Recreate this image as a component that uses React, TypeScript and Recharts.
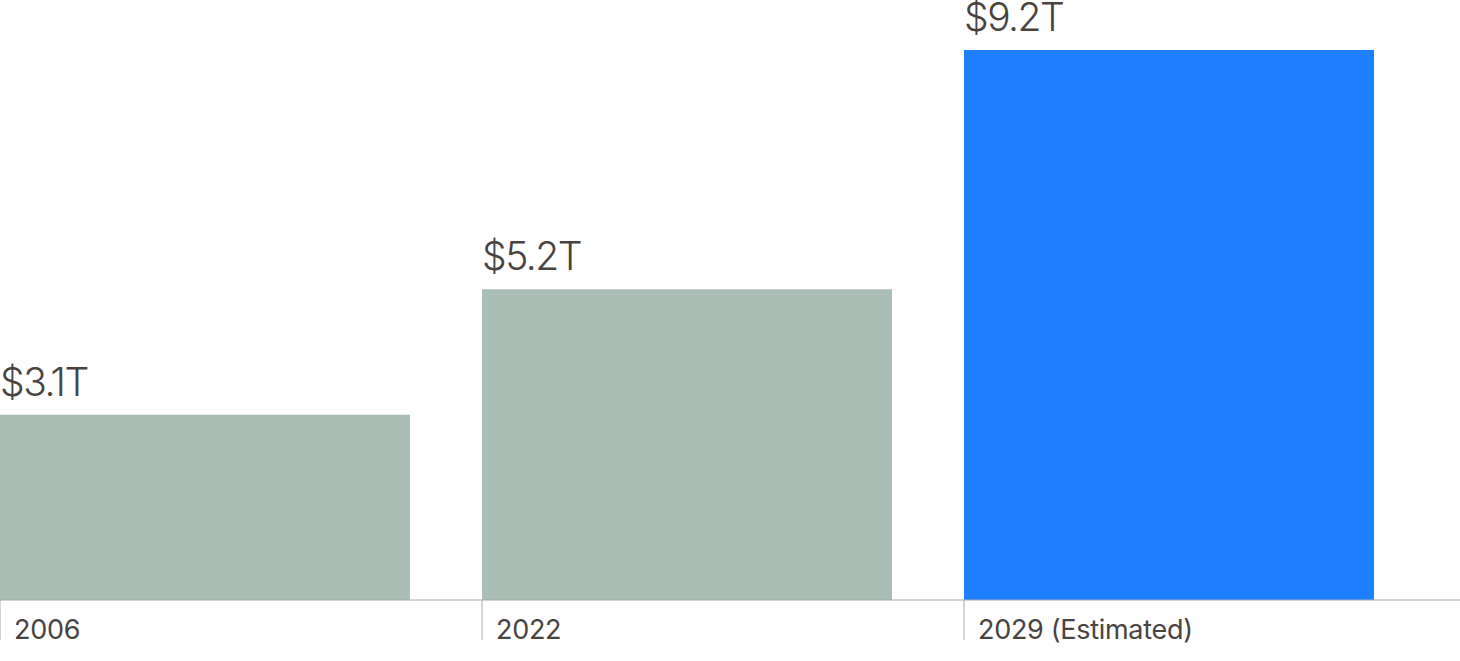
import { Bar, BarChart, Cell, LabelList, XAxis, YAxis } from "recharts";

const years = ["2006", "2022", "2029 (Estimated)"];
const values = [3.1, 5.2, 9.2];
const valueLabels = ["$3.1T", "$5.2T", "$9.2T"];
const barColors = ["#a9beb4", "#a9beb4", "#1f80ff"];

const data = years.map((year, i) => ({ year, value: values[i], label: valueLabels[i] }));

const BAR_W = 410;
const TEXT = "#48433f";
const FONT = "Inter, 'Noto Sans', sans-serif";

function YearTick(props: any) {
  const { x, payload } = props;
  const left = x - BAR_W / 2;
  return (
    <g>
      <line x1={left} y1={600} x2={left} y2={640} stroke="#aaaaaa" strokeWidth={1} />
      <text x={left + 14} y={639} fill={TEXT} fontSize={27} fontFamily={FONT} fontWeight={400} letterSpacing={-0.3}>
        {payload.value}
      </text>
    </g>
  );
}

function ValueLabel(props: any) {
  const { x, y, value } = props;
  return (
    <text x={x} y={y - 19} fill={TEXT} fontSize={39} fontFamily={FONT} fontWeight={300} letterSpacing={-1.5}>
      {value}
    </text>
  );
}

export default function App() {
  return (
    <div style={{ position: "absolute", left: 0, top: 0, background: "#fff" }}>
      <BarChart width={1460} height={661} data={data} margin={{ top: 50, right: 0, bottom: 0, left: 0 }}>
        <XAxis
          dataKey="year"
          height={61}
          padding={{ left: -36, right: 50 }}
          axisLine={{ stroke: "#aaaaaa", strokeWidth: 1 }}
          tickLine={false}
          tick={<YearTick />}
          interval={0}
        />
        <YAxis hide domain={[0, 9.2]} />
        <Bar dataKey="value" barSize={BAR_W} isAnimationActive={false}>
          {data.map((d, i) => (
            <Cell key={d.year} fill={barColors[i]} />
          ))}
          <LabelList dataKey="label" content={<ValueLabel />} />
        </Bar>
      </BarChart>
    </div>
  );
}
